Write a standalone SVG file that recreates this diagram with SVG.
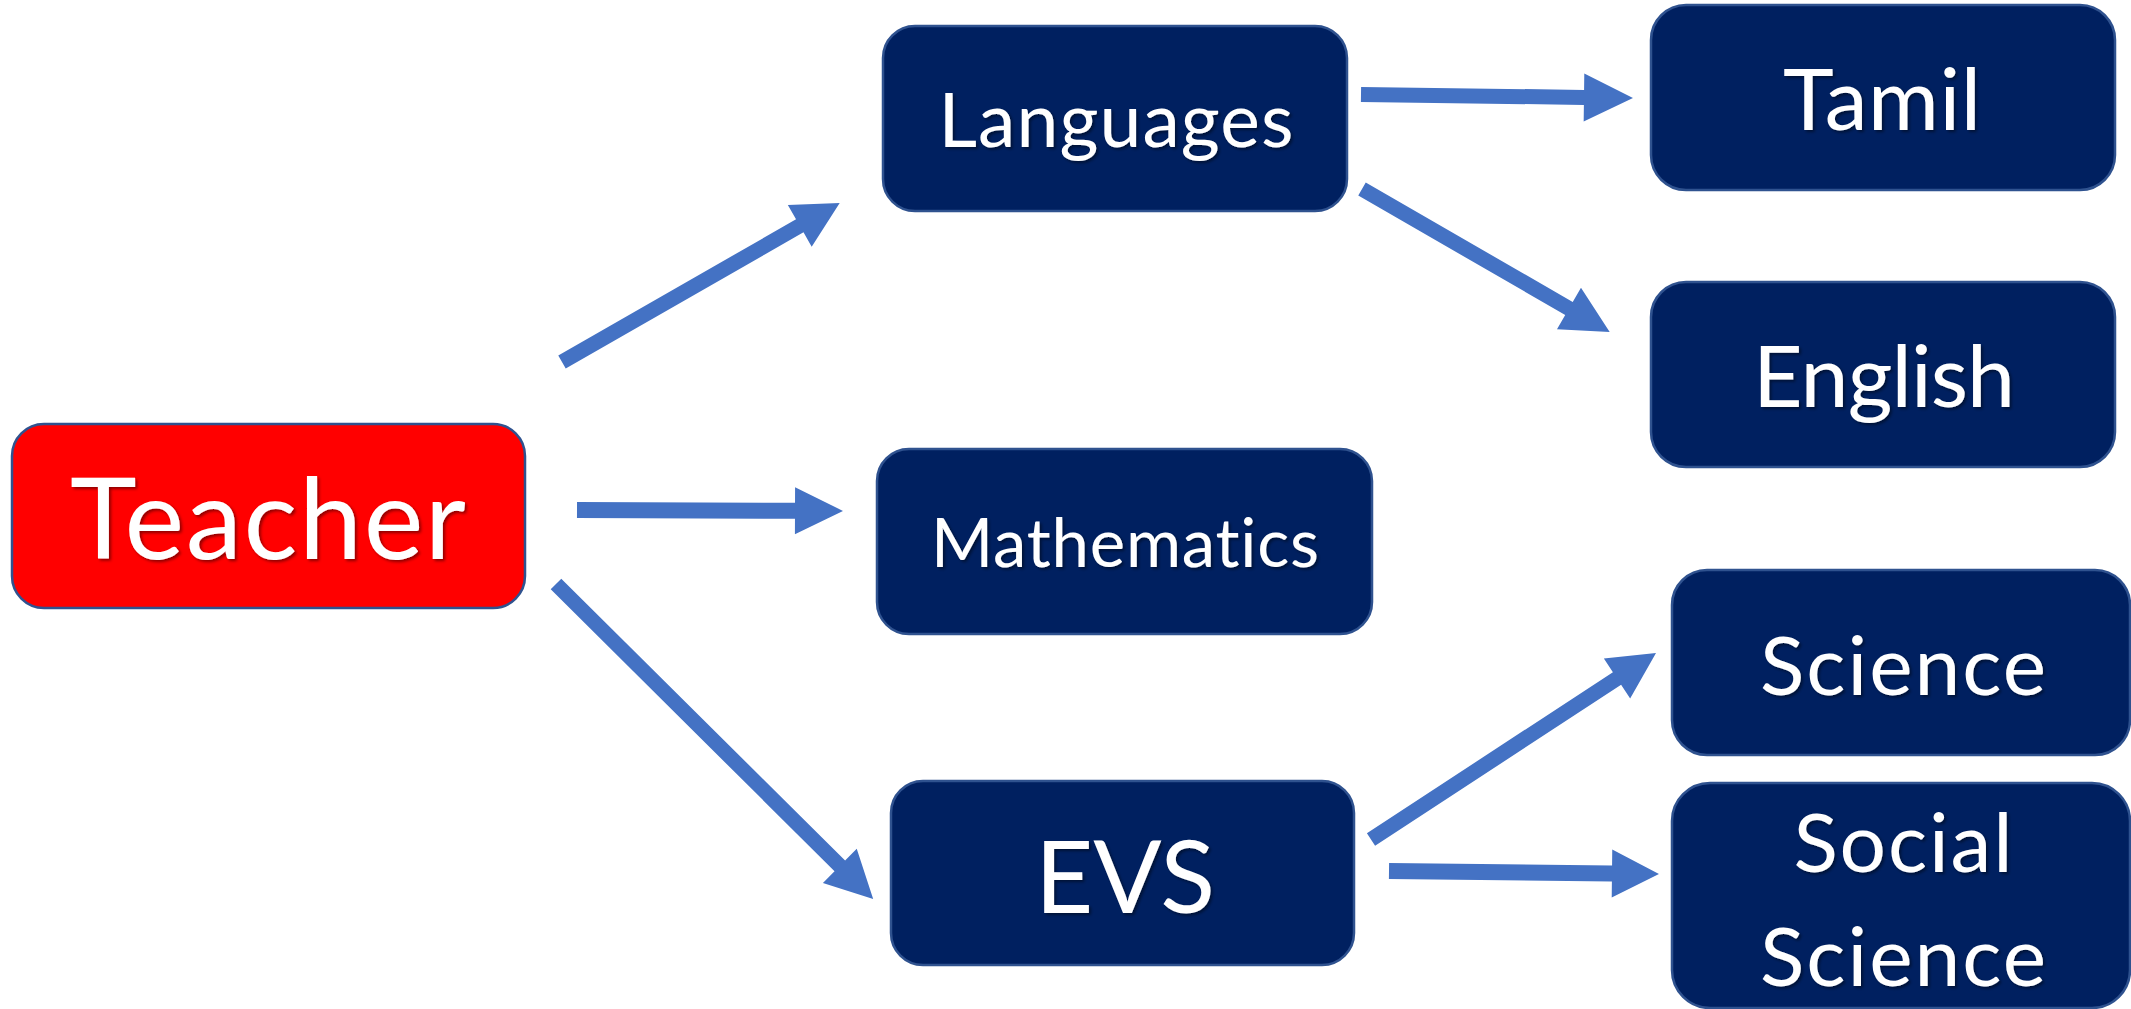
<svg xmlns="http://www.w3.org/2000/svg" width="2131" height="1009" viewBox="0 0 2131 1009">
  <defs>
    <filter id="txtShadow" x="-10%" y="-20%" width="130%" height="150%">
      <feDropShadow dx="2" dy="2" stdDeviation="1.5" flood-color="#000000" flood-opacity="0.45"/>
    </filter>
  </defs>
  <style>
    .box { fill: #002060; stroke: #2F528F; stroke-width: 2.5; }
    .root { fill: #FF0000; stroke: #2F528F; stroke-width: 2.5; }
    .label { fill: #FFFFFF; font-family: Lato, "Open Sans", "Liberation Sans", sans-serif; text-anchor: middle; font-variant-ligatures: none; filter: url(#txtShadow); }
    .arrow { fill: #4472C4; }
  </style>
  <rect width="2131" height="1009" fill="#FFFFFF"/>

  <!-- connectors: block arrows, drawn tail at origin pointing along +x -->
  <g id="connectors">
    <!-- Teacher -> Languages -->
    <polygon class="arrow" transform="translate(562,362) rotate(-29.8)" points="0,-7.5 274,-7.5 274,-24 320,0 274,24 274,7.5 0,7.5"/>
    <!-- Teacher -> Mathematics -->
    <polygon class="arrow" transform="translate(577,510) rotate(0.2)" points="0,-8 218,-8 218,-23.5 266,0 218,23.5 218,8 0,8"/>
    <!-- Teacher -> EVS -->
    <polygon class="arrow" transform="translate(556,584) rotate(44.8)" points="0,-7.5 400,-7.5 400,-24 447,0 400,24 400,7.5 0,7.5"/>
    <!-- Languages -> Tamil -->
    <polygon class="arrow" transform="translate(1361,94.5) rotate(0.74)" points="0,-7.5 223,-7.5 223,-24 272,0 223,24 223,7.5 0,7.5"/>
    <!-- Languages -> English -->
    <polygon class="arrow" transform="translate(1362,189) rotate(30)" points="0,-7.5 239,-7.5 239,-24 286,0 239,24 239,7.5 0,7.5"/>
    <!-- EVS -> Science -->
    <polygon class="arrow" transform="translate(1371,839.5) rotate(-33.2)" points="0,-7.5 294,-7.5 294,-24 340.6,0 294,24 294,7.5 0,7.5"/>
    <!-- EVS -> Social Science -->
    <polygon class="arrow" transform="translate(1389,871) rotate(0.64)" points="0,-8 223,-8 223,-24 270,0 223,24 223,8 0,8"/>
  </g>

  <g id="teacher">
    <rect class="root" x="12" y="424" width="513" height="184" rx="32"/>
    <text class="label" x="268" y="559" font-size="113" textLength="396" lengthAdjust="spacing">Teacher</text>
  </g>

  <g id="languages">
    <rect class="box" x="883" y="26" width="464" height="185" rx="32"/>
    <text class="label" x="1116" y="147" font-size="75" textLength="355" lengthAdjust="spacing">Languages</text>
  </g>

  <g id="mathematics">
    <rect class="box" x="877" y="449" width="495" height="185" rx="32"/>
    <text class="label" x="1125" y="567" font-size="67" textLength="388" lengthAdjust="spacing">Mathematics</text>
  </g>

  <g id="evs">
    <rect class="box" x="891" y="781" width="463" height="184" rx="32"/>
    <text class="label" x="1125" y="913" font-size="101">EVS</text>
  </g>

  <g id="tamil">
    <rect class="box" x="1651" y="5" width="464" height="185" rx="35"/>
    <text class="label" x="1882" y="130" font-size="86" textLength="198" lengthAdjust="spacing">Tamil</text>
  </g>

  <g id="english">
    <rect class="box" x="1651" y="282" width="464" height="185" rx="35"/>
    <text class="label" x="1884" y="407" font-size="86" textLength="262" lengthAdjust="spacing">English</text>
  </g>

  <g id="science">
    <rect class="box" x="1672" y="570" width="458" height="185" rx="35"/>
    <text class="label" x="1903" y="695" font-size="82" textLength="286" lengthAdjust="spacing">Science</text>
  </g>

  <g id="social-science">
    <rect class="box" x="1672" y="783" width="458" height="225" rx="38"/>
    <text class="label" x="1903" y="872" font-size="82" textLength="219" lengthAdjust="spacing">Social</text>
    <text class="label" x="1903" y="986" font-size="82" textLength="286" lengthAdjust="spacing">Science</text>
  </g>
</svg>
